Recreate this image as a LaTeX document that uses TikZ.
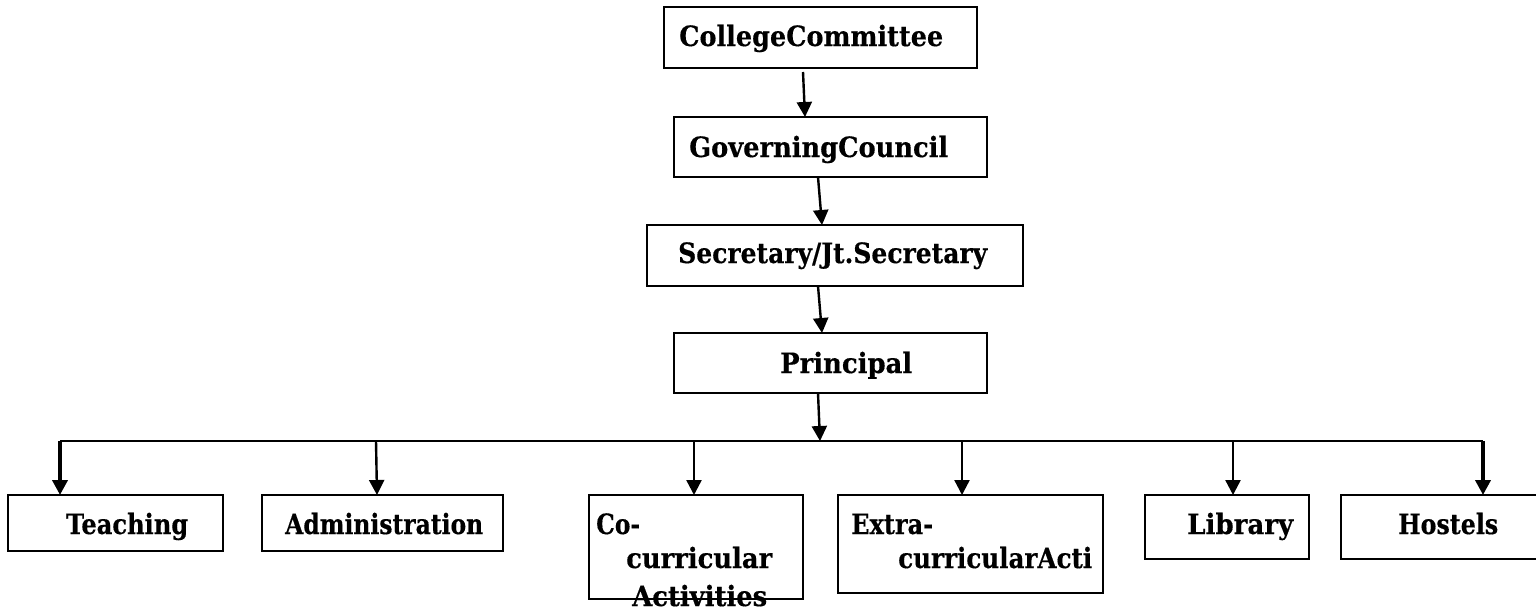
\documentclass[tikz,border=0pt]{standalone}
\usepackage{fontspec}
\usepackage{graphicx}
\setmainfont{DejaVu Serif}[BoldFeatures={FakeBold=0.4}]
\usetikzlibrary{arrows.meta,calc}
\newcommand\fitw[2]{\resizebox{#1}{\height}{#2}}
\begin{document}
\begin{tikzpicture}[x=1pt,y=-1pt,
  box/.style={draw,line width=2pt,inner sep=0pt,outer sep=0pt,rectangle},
  lbl/.style={anchor=base west,inner sep=0pt,font=\fontsize{28}{32}\selectfont\bfseries},
  arr/.style={line width=2.4pt,-{Triangle[width=15pt,length=15pt]}},
  thick arr/.style={line width=3.8pt,-{Triangle[width=15pt,length=15pt]}},
  bus/.style={line width=2pt}]
\useasboundingbox[fill=white] (0,0) rectangle (1536,608);
% boxes
\node[box,minimum width=313pt,minimum height=61pt] (cc) at (820.5,37.5) {};
\node[box,minimum width=313pt,minimum height=60pt] (gc) at (830.5,147) {};
\node[box,minimum width=376pt,minimum height=61pt] (sec) at (835,255.5) {};
\node[box,minimum width=313pt,minimum height=60pt] (pr) at (830.5,363) {};
\node[box,minimum width=215pt,minimum height=56pt] (te) at (115.5,523) {};
\node[box,minimum width=241pt,minimum height=56pt] (ad) at (382.5,523) {};
\node[box,minimum width=214pt,minimum height=104pt] (co) at (696,547) {};
\node[box,minimum width=265pt,minimum height=98pt] (ex) at (970.5,544) {};
\node[box,minimum width=164pt,minimum height=64pt] (li) at (1227,527) {};
\node[box,minimum width=204pt,minimum height=64pt] (ho) at (1443,527) {};
% labels
\node[lbl] (tcc) at (679,46) {\fitw{264pt}{CollegeCommittee}};
\node[lbl] (tgc) at (689,157) {\fitw{259pt}{GoverningCouncil}};
\node[lbl] (tsec) at (678,263) {\fitw{309pt}{Secretary/Jt.Secretary}};
\node[lbl] (tpr) at (780,373) {\fitw{132pt}{Principal}};
\node[lbl] (tte) at (66,534) {\fitw{122pt}{Teaching}};
\node[lbl] (tad) at (285,534) {\fitw{198pt}{Administration}};
\node[lbl] (tco1) at (596,534) {\fitw{44pt}{Co-}};
\node[lbl] (tco2) at (626,568) {\fitw{146pt}{curricular}};
\node[lbl] (tco3) at (632,606) {\fitw{135pt}{Activities}};
\node[lbl] (tex1) at (851,534) {\fitw{82pt}{Extra-}};
\node[lbl] (tex2) at (898,568) {\fitw{194pt}{curricularActi}};
\node[lbl] (tli) at (1187,534) {\fitw{106pt}{Library}};
\node[lbl] (tho) at (1398,534) {\fitw{100pt}{Hostels}};
% vertical chain
\draw[arr] ($(cc.south west)+(139,4)$) -- ($(gc.north west)+(131,0)$);
\draw[arr] ($(gc.south west)+(144,0)$) -- ($(sec.north west)+(175,0)$);
\draw[arr] ($(sec.south west)+(171,0)$) -- ($(pr.north west)+(148,0)$);
\coordinate (busM) at (820,441);
\draw[arr] ($(pr.south west)+(144,0)$) -- (busM);
% bus
\coordinate (busL) at (60,441);
\coordinate (busR) at (1483,441);
\draw[bus] (busL) -- (busR);
% branches
\draw[thick arr] ($(te.north west)+(52,-54)$) -- ($(te.north west)+(52,0)$);
\draw[arr] ($(ad.north west)+(114,-54)$) -- ($(ad.north west)+(115,0)$);
\draw[arr] ($(co.north west)+(105,-54)$) -- ($(co.north west)+(105,0)$);
\draw[arr] ($(ex.north west)+(124,-54)$) -- ($(ex.north west)+(124,0)$);
\draw[arr] ($(li.north west)+(88,-54)$) -- ($(li.north west)+(88,0)$);
\draw[thick arr] ($(ho.north west)+(142,-54)$) -- ($(ho.north west)+(142,0)$);
\end{tikzpicture}
\end{document}
